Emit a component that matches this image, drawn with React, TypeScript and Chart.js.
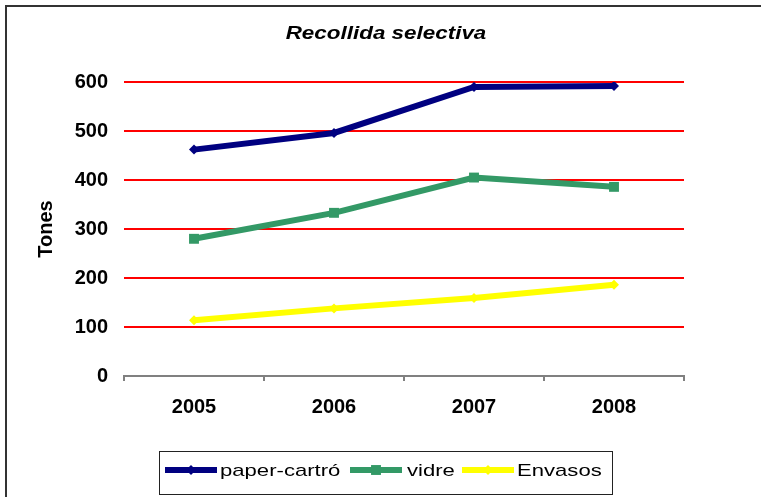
import React, { useEffect, useRef } from "react";
import { Chart, registerables } from "chart.js";

Chart.register(...registerables);

const categories = ["2005", "2006", "2007", "2008"];
const paperCartro = [462, 496, 590, 592];
const vidre = [280, 333, 405, 386];
const envasos = [114, 138, 159, 186];
const yTicks = [0, 100, 200, 300, 400, 500, 600];

const seriesNames = ["paper-cartró", "vidre", "Envasos"];
const seriesColors = ["#000080", "#339966", "#FFFF00"];
const seriesMarkers = ["rectRot", "rect", "rectRot"];
const markerRadius = [5, 7, 5];

const FONT = '"Liberation Sans", Arial, sans-serif';

function drawMarker(ctx: CanvasRenderingContext2D, style: string, x: number, y: number, r: number, color: string) {
  ctx.save();
  ctx.fillStyle = color;
  ctx.beginPath();
  if (style === "rect") {
    const s = r * Math.SQRT1_2;
    ctx.rect(x - s, y - s, 2 * s, 2 * s);
  } else {
    ctx.moveTo(x - r, y);
    ctx.lineTo(x, y - r);
    ctx.lineTo(x + r, y);
    ctx.lineTo(x, y + r);
    ctx.closePath();
  }
  ctx.fill();
  ctx.restore();
}

const decorPlugin = {
  id: "decor",
  afterDraw(chart: any) {
    const ctx: CanvasRenderingContext2D = chart.ctx;
    ctx.save();
    // outer frame (top and left lines)
    ctx.fillStyle = "#333333";
    ctx.fillRect(5, 5, 761, 2);
    ctx.fillRect(5, 5, 2, 497);

    // title
    ctx.fillStyle = "#000";
    ctx.font = `italic bold 19px ${FONT}`;
    ctx.textBaseline = "middle";
    ctx.textAlign = "center";
    ctx.save();
    ctx.translate(386, 34);
    ctx.scale(1.18, 1);
    ctx.fillText("Recollida selectiva", 0, 0);
    ctx.restore();

    // legend box
    ctx.strokeStyle = "#222";
    ctx.lineWidth = 1;
    ctx.strokeRect(159.5, 451.5, 453, 43);

    const lineStarts = [165, 350, 462];
    const textStarts = [220, 407, 517];
    const ly = 470;
    for (let i = 0; i < 3; i++) {
      ctx.strokeStyle = seriesColors[i];
      ctx.lineWidth = 6;
      ctx.lineCap = "butt";
      ctx.beginPath();
      ctx.moveTo(lineStarts[i], ly);
      ctx.lineTo(lineStarts[i] + 52, ly);
      ctx.stroke();
      drawMarker(ctx, seriesMarkers[i], lineStarts[i] + 26, ly, markerRadius[i], seriesColors[i]);
      ctx.save();
      ctx.fillStyle = "#000";
      ctx.font = `17px ${FONT}`;
      ctx.textAlign = "left";
      ctx.textBaseline = "middle";
      ctx.translate(textStarts[i], 471);
      ctx.scale(1.3, 1);
      ctx.fillText(seriesNames[i], 0, 0);
      ctx.restore();
    }
    ctx.restore();
  },
};

export default function App() {
  const ref = useRef<HTMLCanvasElement | null>(null);
  useEffect(() => {
    document.body.style.margin = "0";
    const canvas = ref.current!;
    const data = [paperCartro, vidre, envasos];
    const chart = new Chart(canvas, {
      type: "line",
      data: {
        labels: categories,
        datasets: data.map((d, i) => ({
          label: seriesNames[i],
          data: d,
          borderColor: seriesColors[i],
          backgroundColor: seriesColors[i],
          borderWidth: 6,
          tension: 0,
          pointStyle: seriesMarkers[i] as any,
          pointRadius: markerRadius[i],
          pointBorderWidth: 0,
          pointHoverRadius: markerRadius[i],
          fill: false,
        })),
      },
      options: {
        responsive: false,
        animation: false,
        events: [],
        layout: { padding: { top: 82, right: 77, bottom: 0, left: 0 } },
        plugins: {
          legend: { display: false },
          title: { display: false },
          tooltip: { enabled: false },
        },
        scales: {
          x: {
            type: "category",
            offset: true,
            grid: {
              offset: true,
              drawOnChartArea: false,
              drawTicks: true,
              tickLength: 5,
              color: "#808080",
              lineWidth: 2,
            },
            border: { display: true, color: "#808080", width: 2 },
            ticks: {
              color: "#000",
              font: { family: FONT, size: 20, weight: "bold" },
              padding: 14,
              maxRotation: 0,
            },
            afterFit: (s: any) => {
              s.height = 121;
            },
          },
          y: {
            min: 0,
            max: 600,
            afterBuildTicks: (s: any) => {
              s.ticks = yTicks.map((v) => ({ value: v }));
            },
            grid: {
              drawTicks: false,
              color: (c: any) => (c.tick && c.tick.value === 0 ? "rgba(0,0,0,0)" : "#FF0000"),
              lineWidth: 2,
            },
            border: { display: false },
            ticks: {
              color: "#000",
              font: { family: FONT, size: 20, weight: "bold" },
              padding: 16,
            },
            title: {
              display: true,
              text: "Tones",
              color: "#000",
              font: { family: FONT, size: 20, weight: "bold" },
              padding: { top: 34, bottom: 0 },
            },
            afterFit: (s: any) => {
              s.width = 124;
            },
          },
        },
      },
      plugins: [decorPlugin],
    });
    return () => chart.destroy();
  }, []);
  return (
    <div style={{ width: 761, height: 497, background: "#fff" }}>
      <canvas ref={ref} width={761} height={497} style={{ display: "block" }} />
    </div>
  );
}
